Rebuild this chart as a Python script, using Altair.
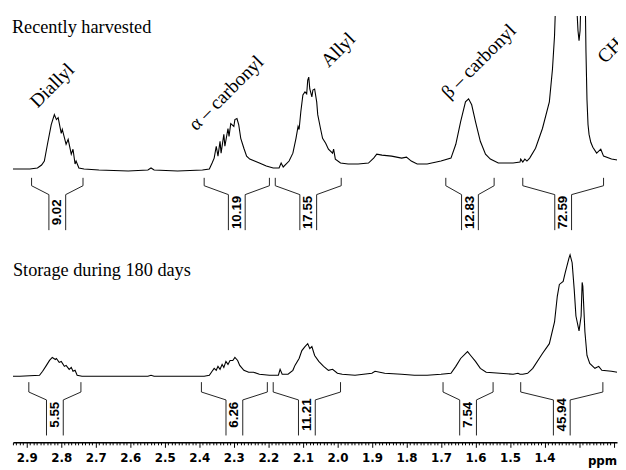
import altair as alt
import pandas as pd

# ---------------- data ----------------
# Recently harvested spectrum: chemical shift (ppm) and intensity above its baseline
top_ppm = [2.940, 2.891, 2.869, 2.857, 2.849, 2.840, 2.829, 2.820, 2.814, 2.809, 2.800, 2.797,
           2.786, 2.780, 2.771, 2.766, 2.760, 2.757, 2.749, 2.734, 2.691, 2.606, 2.549, 2.540,
           2.531, 2.463, 2.391, 2.371, 2.363, 2.357, 2.351, 2.346, 2.340, 2.337, 2.329, 2.326,
           2.317, 2.314, 2.309, 2.300, 2.297, 2.291, 2.286, 2.280, 2.271, 2.263, 2.254, 2.240,
           2.226, 2.206, 2.186, 2.169, 2.163, 2.157, 2.140, 2.129, 2.120, 2.114, 2.111, 2.106,
           2.100, 2.094, 2.089, 2.086, 2.083, 2.080, 2.074, 2.071, 2.066, 2.060, 2.057, 2.049,
           2.043, 2.034, 2.026, 2.014, 2.011, 2.006, 1.991, 1.969, 1.940, 1.910, 1.895, 1.886, 1.871,
           1.843, 1.814, 1.800, 1.786, 1.769, 1.740, 1.700, 1.671, 1.657, 1.643, 1.629, 1.620,
           1.611, 1.600, 1.586, 1.571, 1.557, 1.534, 1.491, 1.471, 1.469, 1.463, 1.457, 1.451,
           1.443, 1.426, 1.406, 1.386, 1.377, 1.371, 1.363, 1.357, 1.346, 1.340, 1.329, 1.326,
           1.320, 1.314, 1.309, 1.303, 1.300, 1.297, 1.294, 1.291, 1.289, 1.286, 1.283, 1.280,
           1.277, 1.274, 1.271, 1.266, 1.260, 1.249, 1.237, 1.229, 1.206, 1.189]
top_int = [0, 0, 1, 4, 8, 25, 45, 55, 50, 52, 36, 40,
           25, 30, 15, 20, 5, 8, 1, 0, -1, -2, -1, 1,
           -1, -2, -1, 0, 6, 11, 23, 13, 28, 16, 35, 23,
           41, 33, 46, 43, 50, 51, 45, 31, 21, 13, 10, 8,
           6, 3, 1, 1, 6, 2, 8, 16, 31, 43, 40, 58,
           75, 78, 76, 90, 93, 81, 73, 80, 81, 68, 55, 41,
           31, 26, 20, 16, 20, 10, 6, 5, 5, 6, 11, 15, 14,
           13, 11, 12, 8, 5, 5, 8, 11, 25, 48, 68, 71,
           65, 48, 28, 15, 10, 6, 6, 7, 10, 7, 10, 8,
           11, 21, 41, 68, 101, 135, 220, 270, 285, 310, 360, 365,
           340, 260, 180, 140, 130, 140, 180, 280, 270, 200, 200, 120,
           70, 45, 35, 27, 22, 16, 20, 13, 10, 9]

# Storage during 180 days spectrum
bot_ppm = [2.940, 2.920, 2.863, 2.854, 2.843, 2.834, 2.826, 2.817, 2.814, 2.806, 2.800, 2.791,
           2.786, 2.777, 2.771, 2.766, 2.760, 2.754, 2.740, 2.634, 2.549, 2.540, 2.531, 2.386,
           2.371, 2.363, 2.357, 2.351, 2.346, 2.340, 2.334, 2.329, 2.323, 2.317, 2.311, 2.303,
           2.297, 2.289, 2.283, 2.271, 2.257, 2.243, 2.226, 2.197, 2.171, 2.166, 2.160, 2.143,
           2.129, 2.123, 2.111, 2.103, 2.094, 2.086, 2.080, 2.074, 2.066, 2.054, 2.040, 2.026,
           2.014, 2.000, 1.986, 1.949, 1.900, 1.891, 1.863, 1.814, 1.777, 1.740, 1.700, 1.671,
           1.657, 1.643, 1.629, 1.623, 1.614, 1.600, 1.586, 1.569, 1.529, 1.491, 1.477, 1.471,
           1.463, 1.449, 1.434, 1.406, 1.386, 1.371, 1.363, 1.357, 1.346, 1.340, 1.329, 1.326,
           1.320, 1.314, 1.309, 1.300, 1.294, 1.291, 1.289, 1.283, 1.277, 1.269, 1.254, 1.243,
           1.234, 1.206, 1.189]
bot_int = [0, 0, 1, 5, 11, 16, 19, 17, 18, 14, 15, 10,
           11, 7, 9, 5, 6, 1, 0, 0, 0, 1, 0, 0,
           1, 5, 8, 6, 10, 7, 12, 9, 15, 12, 16, 16,
           19, 16, 11, 6, 4, 4, 2, 1, 1, 7, 2, 2,
           6, 11, 18, 26, 30, 33, 28, 30, 21, 15, 10, 6,
           7, 3, 2, 1, 3, 5, 3, 2, 1, 1, 2, 3,
           10, 18, 23, 25, 21, 15, 8, 4, 3, 2, 3, 2,
           2, 3, 8, 23, 33, 55, 81, 93, 96, 105, 120, 123,
           115, 88, 61, 46, 61, 95, 91, 45, 21, 13, 8, 10,
           6, 5, 4]

# Integral regions (ppm) and integral values
top_int_start = [2.886, 2.386, 2.180, 1.686, 1.463]
top_int_end = [2.737, 2.197, 1.989, 1.546, 1.229]
top_int_val = ["9.02", "10.19", "17.55", "12.83", "72.59"]
bot_int_start = [2.894, 2.394, 2.186, 1.694, 1.469]
bot_int_end = [2.743, 2.203, 1.991, 1.549, 1.231]
bot_int_val = ["5.55", "6.26", "11.21", "7.54", "45.94"]

# Peak assignments (upper spectrum)
peak_labels = ["Diallyl", "α – carbonyl", "Allyl", "β – carbonyl", "CH₃"]
peak_label_ppm = [2.869, 2.409, 2.026, 1.677, 1.225]
peak_label_h = [61, 38, 102, 70, 106]

# Panel titles
panel_titles = ["Recently harvested", "Storage during 180 days"]
panel_title_ppm = [2.943, 2.940]
panel_title_h = [138, 102]

# Axis ticks
tick_values = [round(1.20 + 0.01 * i, 2) for i in range(175)]

# ---------------- layout constants ----------------
W, H = 612, 432
X_DOMAIN = [2.94, 1.19]
TOP_BASE, BOT_BASE = 277, 67
DELTA = 0.0243  # half-gap of the bracket stem (ppm)
TOP_LEVELS = [9, 17, 26, 62, 44]
BOT_LEVELS = [6, 16, 24, 60, 39]

spec = pd.concat([
    pd.DataFrame({"ppm": top_ppm, "y": [v + TOP_BASE for v in top_int], "s": "top"}),
    pd.DataFrame({"ppm": bot_ppm, "y": [v + BOT_BASE for v in bot_int], "s": "bot"}),
])

br_rows, lab_rows = [], []
for starts, ends, vals, base, lv, tag in [
    (top_int_start, top_int_end, top_int_val, TOP_BASE, TOP_LEVELS, "t"),
    (bot_int_start, bot_int_end, bot_int_val, BOT_BASE, BOT_LEVELS, "b"),
]:
    for i, (a, b, v) in enumerate(zip(starts, ends, vals)):
        c = (a + b) / 2
        for side, edge, inner in [("L", a, c + DELTA), ("R", b, c - DELTA)]:
            g = f"{tag}{i}{side}"
            pts = [(edge, base - lv[0]), (edge, base - lv[1]), (inner, base - lv[2]), (inner, base - lv[3])]
            for k, (px, py) in enumerate(pts):
                br_rows.append({"ppm": px, "y": py, "g": g, "k": k})
        lab_rows.append({"ppm": c, "y": base - lv[4], "t": v})
brackets = pd.DataFrame(br_rows)
int_labels = pd.DataFrame(lab_rows)

peaks = pd.DataFrame({"ppm": peak_label_ppm, "y": [h + TOP_BASE for h in peak_label_h], "t": peak_labels})
titles = pd.DataFrame({"ppm": panel_title_ppm,
                       "y": [panel_title_h[0] + TOP_BASE, panel_title_h[1] + BOT_BASE],
                       "t": panel_titles})

major = "abs(datum.value*10 - round(datum.value*10)) < 0.001"
x_axis = alt.Axis(
    values=tick_values,
    labelExpr=f"({major}) && datum.value > 1.35 ? format(datum.value, '.1f') : ''",
    tickSize={"condition": {"test": major, "value": 5}, "value": 2.5},
    tickColor="black", tickWidth=1, domainColor="black", domainWidth=1.5,
    labelFont="DejaVu Sans", labelFontWeight="bold", labelFontSize=12, labelColor="black",
    labelPadding=5, labelOverlap=False, labelFlush=False, labelBound=False, grid=False, title=None,
)
xs = alt.Scale(domain=X_DOMAIN, nice=False, zero=False)
ys = alt.Scale(domain=[0, H], nice=False, zero=False)

x_enc = alt.X("ppm:Q", scale=xs, axis=x_axis)
y_enc = alt.Y("y:Q", scale=ys, axis=None)

lines = alt.Chart(spec).mark_line(clip=True, color="black", strokeWidth=1.1).encode(
    x=x_enc, y=y_enc, detail="s:N")
br = alt.Chart(brackets).mark_line(color="#222", strokeWidth=1).encode(
    x=x_enc, y=y_enc, detail="g:N", order="k:Q")
il = alt.Chart(int_labels).mark_text(angle=270, font="Liberation Sans", fontWeight="bold", fontSize=13.5,
                                     color="black", align="center", baseline="middle").encode(
    x=x_enc, y=y_enc, text="t:N")
pl = alt.Chart(peaks).mark_text(angle=315, font="Liberation Serif", fontSize=19.5, color="black",
                                align="left", baseline="alphabetic").encode(
    x=x_enc, y=y_enc, text="t:N")
tl = alt.Chart(titles).mark_text(font="Liberation Serif", fontSize=18.5, color="black",
                                 align="left", baseline="alphabetic").encode(
    x=x_enc, y=y_enc, text="t:N")
ppm_lab = alt.Chart(pd.DataFrame({"ppm": [1.232], "y": [-19], "t": ["ppm"]})).mark_text(
    font="DejaVu Sans", fontWeight="bold", fontSize=12, color="black", align="center", baseline="middle"
).encode(x=x_enc, y=y_enc, text="t:N")

chart = alt.layer(lines, br, il, pl, tl, ppm_lab).properties(
    width=W, height=H,
    autosize=alt.AutoSizeParams(type="none"),
    padding={"left": 5, "top": 5, "right": 1, "bottom": 30},
).configure_view(stroke=None)

chart.save("out.html", embed_options={"renderer": "svg", "actions": False})
